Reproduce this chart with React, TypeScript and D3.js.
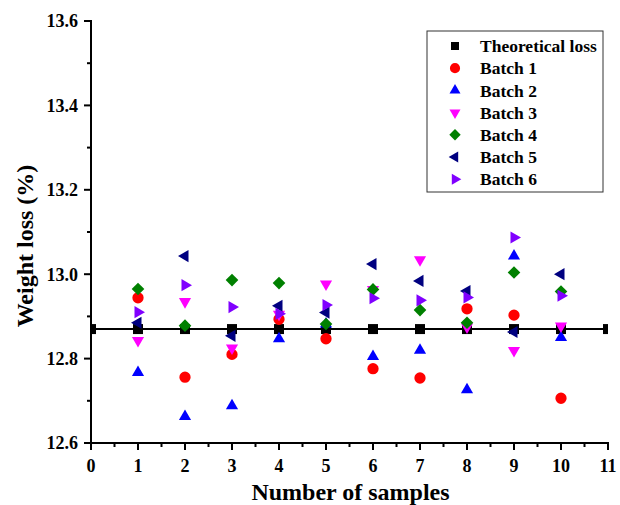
import React from 'react';
import * as d3 from 'd3';

// values
const samples = [1, 2, 3, 4, 5, 6, 7, 8, 9, 10];
const theoryX = [0, 1, 2, 3, 4, 5, 6, 7, 8, 9, 10, 11];
const theoreticalLoss = 12.87;
const batch1 = [12.944, 12.756, 12.81, 12.893, 12.847, 12.776, 12.754, 12.918, 12.903, 12.706];
const batch2 = [12.767, 12.663, 12.688, 12.847, 12.882, 12.805, 12.82, 12.726, 13.043, 12.85];
const batch3 = [12.843, 12.935, 12.825, 12.905, 12.977, 12.964, 13.034, 12.875, 12.819, 12.877];
const batch4 = [12.965, 12.878, 12.986, 12.979, 12.882, 12.964, 12.915, 12.885, 13.004, 12.959];
const batch5 = [12.885, 13.043, 12.854, 12.925, 12.909, 13.024, 12.984, 12.96, 12.863, 13.0];
const batch6 = [12.91, 12.974, 12.922, 12.906, 12.927, 12.943, 12.938, 12.945, 13.087, 12.949];
const yTicks = [12.6, 12.8, 13.0, 13.2, 13.4, 13.6];
const xTicks = [0, 1, 2, 3, 4, 5, 6, 7, 8, 9, 10, 11];

const W = 620;
const H = 505;
const left = 91, right = 608, top = 21, bottom = 443;
const font = '"Liberation Serif", "Times New Roman", serif';

const x = d3.scaleLinear().domain([0, 11]).range([left, right]);
const y = d3.scaleLinear().domain([12.6, 13.6]).range([bottom, top]);

const tri = d3.symbol().type(d3.symbolTriangle).size(64)()!;
const shapes = {
  square: d3.symbol().type(d3.symbolSquare).size(100)()!,
  circle: d3.symbol().type(d3.symbolCircle).size(100)()!,
  diamond: d3.symbol().type(d3.symbolSquare).size(80)()!,
  tri,
};

const series = [
  { name: 'Batch 1', values: batch1, color: '#ff0000', path: shapes.circle, rot: 0 },
  { name: 'Batch 2', values: batch2, color: '#0000ff', path: tri, rot: 0 },
  { name: 'Batch 3', values: batch3, color: '#ff00ff', path: tri, rot: 180 },
  { name: 'Batch 4', values: batch4, color: '#008000', path: shapes.diamond, rot: 45 },
  { name: 'Batch 5', values: batch5, color: '#000080', path: tri, rot: -90 },
  { name: 'Batch 6', values: batch6, color: '#8000ff', path: tri, rot: 90 },
];

const legendItems = [
  { name: 'Theoretical loss', color: '#000000', path: shapes.square, rot: 0, scale: 0.8 },
  ...series.map(s => ({ ...s, scale: 0.9 })),
];

export default function App() {
  const xMinor = d3.range(0.5, 11, 1);
  const yMinor = d3.range(12.7, 13.6, 0.2);
  const line = d3.line<number>().x(d => x(d)).y(() => y(theoreticalLoss));

  return (
    <svg width={W} height={H} style={{ position: 'absolute', left: 0, top: 0, background: '#fff' }}>
      <defs>
        <clipPath id="plot">
          <rect x={left} y={top} width={right - left} height={bottom - top} />
        </clipPath>
      </defs>

      {/* theoretical loss */}
      <g clipPath="url(#plot)">
        <path d={line(theoryX)!} stroke="#000" strokeWidth={2} fill="none" />
        {theoryX.map(v => (
          <path key={v} d={shapes.square} transform={`translate(${x(v)},${y(theoreticalLoss)})`} fill="#000" />
        ))}
      </g>

      {/* batches */}
      {series.map(s => (
        <g key={s.name}>
          {s.values.map((v, i) => (
            <path
              key={i}
              d={s.path}
              fill={s.color}
              transform={`translate(${x(samples[i])},${y(v)}) rotate(${s.rot})`}
            />
          ))}
        </g>
      ))}

      {/* axes */}
      <g stroke="#000" strokeWidth={2}>
        <line x1={left} x2={left} y1={top - 1} y2={bottom + 1} />
        <line x1={left - 1} x2={right + 1} y1={bottom} y2={bottom} />
        {yTicks.map(t => <line key={t} x1={left - 7} x2={left} y1={y(t)} y2={y(t)} />)}
        {yMinor.map(t => <line key={t} x1={left - 4} x2={left} y1={y(t)} y2={y(t)} />)}
        {xTicks.map(t => <line key={t} x1={x(t)} x2={x(t)} y1={bottom} y2={bottom + 7} />)}
        {xMinor.map(t => <line key={t} x1={x(t)} x2={x(t)} y1={bottom} y2={bottom + 4} />)}
      </g>
      <g fontFamily={font} fontWeight="bold" fontSize={18} fill="#000">
        {yTicks.map(t => (
          <text key={t} x={left - 13} y={y(t)} dy="0.35em" textAnchor="end">{t.toFixed(1)}</text>
        ))}
        {xTicks.map(t => (
          <text key={t} x={x(t)} y={bottom + 29} textAnchor="middle">{t}</text>
        ))}
      </g>
      <text x={(left + right) / 2 + 1} y={500} textAnchor="middle" fontFamily={font} fontWeight="bold" fontSize={24}>
        Number of samples
      </text>
      <text
        transform="translate(33,246) rotate(-90)"
        textAnchor="middle"
        fontFamily={font}
        fontWeight="bold"
        fontSize={24}
      >
        Weight loss (%)
      </text>

      {/* legend */}
      <rect x={427} y={31} width={176} height={161} fill="#fff" stroke="#333" strokeWidth={1} />
      {legendItems.map((it, i) => {
        const ly = 46 + i * 22.2;
        return (
          <g key={it.name}>
            <path d={it.path} fill={it.color} transform={`translate(455,${ly}) rotate(${it.rot}) scale(${it.scale})`} />
            <text x={480} y={ly} dy="0.35em" fontFamily={font} fontWeight="bold" fontSize={17.5}>{it.name}</text>
          </g>
        );
      })}
    </svg>
  );
}
